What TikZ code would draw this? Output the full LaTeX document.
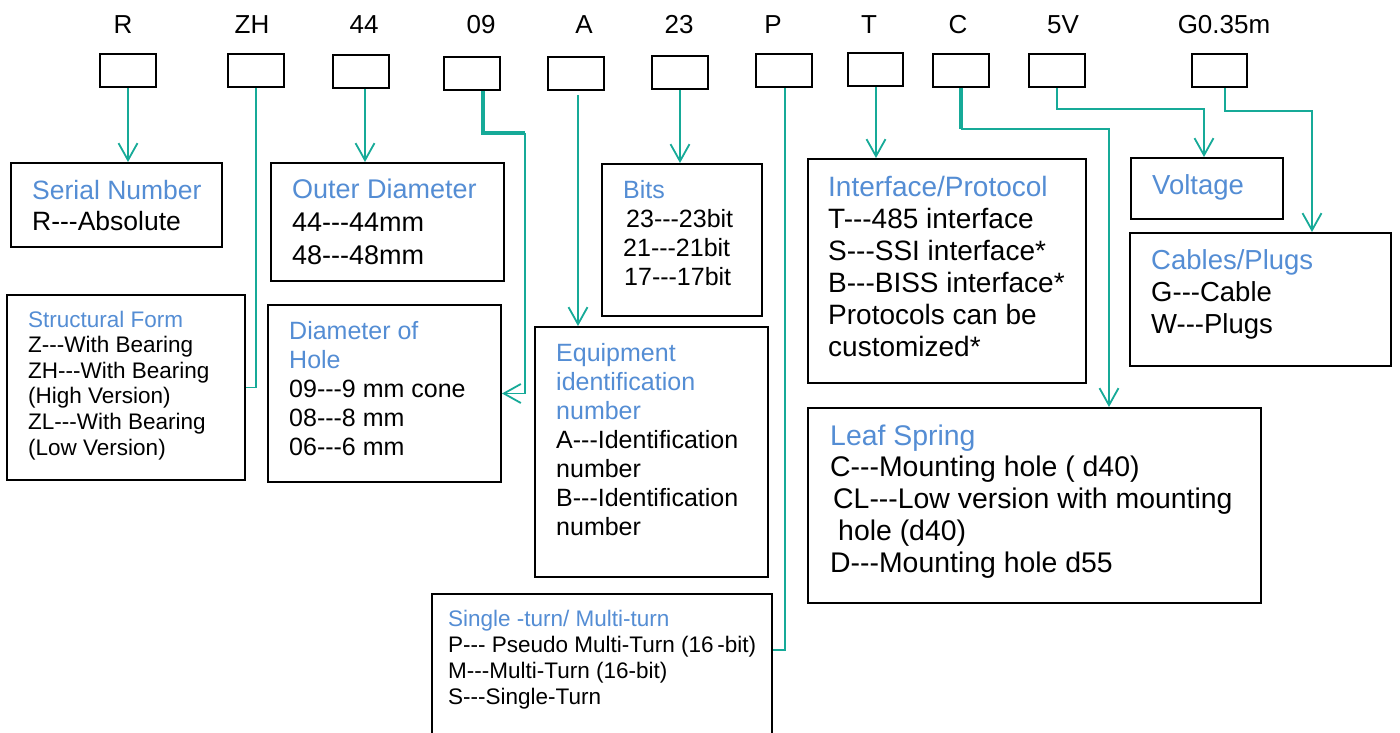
\documentclass[tikz,border=0pt]{standalone}
\usepackage{fontspec}
\setmainfont{Liberation Sans}[Ligatures=TeXOff]
\usetikzlibrary{arrows.meta,fit}
\definecolor{teal1}{RGB}{22,170,152}
\definecolor{ttl}{RGB}{84,141,212}
\newcommand\tbx[3]{\fontsize{#1}{#2}\selectfont\begin{tabular}[t]{@{}l@{}}#3\end{tabular}}
\begin{document}
\begin{tikzpicture}[x=1pt,y=-1pt,
  box/.style={draw=black, line width=2pt, inner sep=0pt},
  conn/.style={draw=teal1, line width=1.8pt},
  thk/.style={draw=teal1, line width=3.5pt},
  arr/.style={-{Straight Barb[length=17pt,width=19pt]}},
  txt/.style={anchor=base west, inner sep=0pt},
  lab/.style={anchor=base, inner sep=0pt, font=\fontsize{26}{30}\selectfont}]
\useasboundingbox (0,0) rectangle (1400,733);
\clip (0,0) rectangle (1400,733);
\fill[white] (0,0) rectangle (1400,733);

% top labels
\node[lab] (lR) at (123,34) {R};
\node[lab] (lZH) at (252,34) {ZH};
\node[lab] (l44) at (364,34) {44};
\node[lab] (l09) at (481,34) {09};
\node[lab] (lA) at (584,34) {A};
\node[lab] (l23) at (679,34) {23};
\node[lab] (lP) at (773,34) {P};
\node[lab] (lT) at (869,34) {T};
\node[lab] (lC) at (958,34) {C};
\node[lab] (l5V) at (1063,34) {5V};
\node[lab] (lG) at (1224,34) {G0.35m};

% top small boxes
\node[box, fit={(100,54) (156,87)}] (r) {};
\node[box, fit={(228,54) (284,87)}] (zh) {};
\node[box, fit={(333,55) (389,88)}] (n44) {};
\node[box, fit={(444,57) (500,90)}] (n09) {};
\node[box, fit={(548,57) (604,90)}] (a) {};
\node[box, fit={(652,56) (708,89)}] (n23) {};
\node[box, fit={(756,54) (812,87)}] (p) {};
\node[box, fit={(848,53) (903,86)}] (t) {};
\node[box, fit={(933,54) (989,87)}] (c) {};
\node[box, fit={(1029,54) (1085,87)}] (v5) {};
\node[box, fit={(1192,54) (1247,87)}] (g) {};

% description boxes
\node[box, fit={(11,163) (222,247)}] (ser) {};
\node[box, fit={(7,295) (245,480)}] (struct) {};
\node[box, fit={(271,163) (504,281)}] (outer) {};
\node[box, fit={(268,305) (501,482)}] (dia) {};
\node[box, fit={(602,164) (762,316)}] (bits) {};
\node[box, fit={(535,327) (768,577)}] (equip) {};
\node[box, fit={(432,594) (772,760)}] (single) {};
\node[box, fit={(808,159) (1086,383)}] (iface) {};
\node[box, fit={(1131,158) (1283,219)}] (volt) {};
\node[box, fit={(1130,233) (1391,366)}] (cab) {};
\node[box, fit={(808,408) (1261,603)}] (leaf) {};

% texts
\node[txt] (serT) at (32,199) {\tbx{26.5}{31}{\textcolor{ttl}{Serial Number}\\R---Absolute}};
\node[txt] (structT) at (28,327) {\tbx{22.5}{25.6}{\textcolor{ttl}{Structural Form}\\Z---With Bearing\\ZH---With Bearing\\(High Version)\\ZL---With Bearing\\(Low Version)}};
\node[txt] (outerT) at (292,198) {\tbx{27}{33}{\textcolor{ttl}{Outer Diameter}\\44---44mm\\48---48mm}};
\node[txt] (diaT) at (289,339) {\tbx{25}{29}{\textcolor{ttl}{Diameter of}\\\textcolor{ttl}{Hole}\\09---9 mm cone\\08---8 mm\\06---6 mm}};
\node[txt] (bitsT) at (623,198) {\tbx{25}{29}{\textcolor{ttl}{Bits}\\\hspace{3pt}23---23bit\\21---21bit\\\hspace{1pt}17---17bit}};
\node[txt] (equipT) at (556,361) {\tbx{25}{29}{\textcolor{ttl}{Equipment}\\\textcolor{ttl}{identification}\\\textcolor{ttl}{number}\\A---Identification\\number\\B---Identification\\number}};
\node[txt] (singleT) at (448,626) {\tbx{22.5}{26}{\textcolor{ttl}{Single -turn/ Multi-turn}\\P--- Pseudo Multi-Turn (16\,-bit)\\M---Multi-Turn (16-bit)\\S---Single-Turn}};
\node[txt] (ifaceT) at (828,196) {\tbx{28}{32.2}{\textcolor{ttl}{Interface/Protocol}\\T---485 interface\\S---SSI interface*\\B---BISS interface*\\Protocols can be\\customized*}};
\node[txt] (voltT) at (1152,194) {\tbx{27.5}{32}{\textcolor{ttl}{Voltage}}};
\node[txt] (cabT) at (1151,269) {\tbx{27.5}{32}{\textcolor{ttl}{Cables/Plugs}\\G---Cable\\W---Plugs}};
\node[txt] (leafT) at (830,445) {\tbx{28.4}{31.8}{\textcolor{ttl}{Leaf Spring}\\C---Mounting hole ( d40)\\\hspace{3pt}CL---Low version with mounting\\\hspace{8pt}hole (d40)\\D---Mounting hole d55}};

% connector helper coordinates
\coordinate (s44) at ([xshift=4pt]n44.south);
\coordinate (s09) at ([xshift=11pt]n09.south);
\coordinate (k09) at (525,133);
\coordinate (sa) at ([xshift=2pt,yshift=-4pt]a.south);
\coordinate (st) at ([xshift=0.5pt]t.south);
\coordinate (kp) at (785,650);
\coordinate (kc) at (1109,129);
\coordinate (k5) at (1204,109);
\coordinate (sg) at ([xshift=5.5pt]g.south);
\coordinate (kg) at (1312,111);

% connectors
\draw[conn, arr] (r.south) -- (r.south |- ser.north);
\draw[conn] (zh.south) |- (struct.east);
\draw[conn, arr] (s44) -- (s44 |- outer.north);
\draw[thk] (s09) |- (k09);
\draw[conn, arr] (k09) |- (dia.east);
\draw[conn, arr] (sa) -- (sa |- equip.north);
\draw[conn, arr] (n23.south) -- (n23.south |- bits.north);
\draw[conn] (p.south -| kp) -- (kp) -- (kp -| single.east);
\draw[conn, arr] (st) -- (st |- iface.north);
\draw[thk] (c.south) -- (c.south |- kc);
\draw[conn, arr] (c.south |- kc) -- (kc) -- (kc |- leaf.north);
\draw[conn, arr] (v5.south) |- (k5) -- (k5 |- volt.north);
\draw[conn, arr] (sg) |- (kg) -- (kg |- cab.north);
\end{tikzpicture}
\end{document}
